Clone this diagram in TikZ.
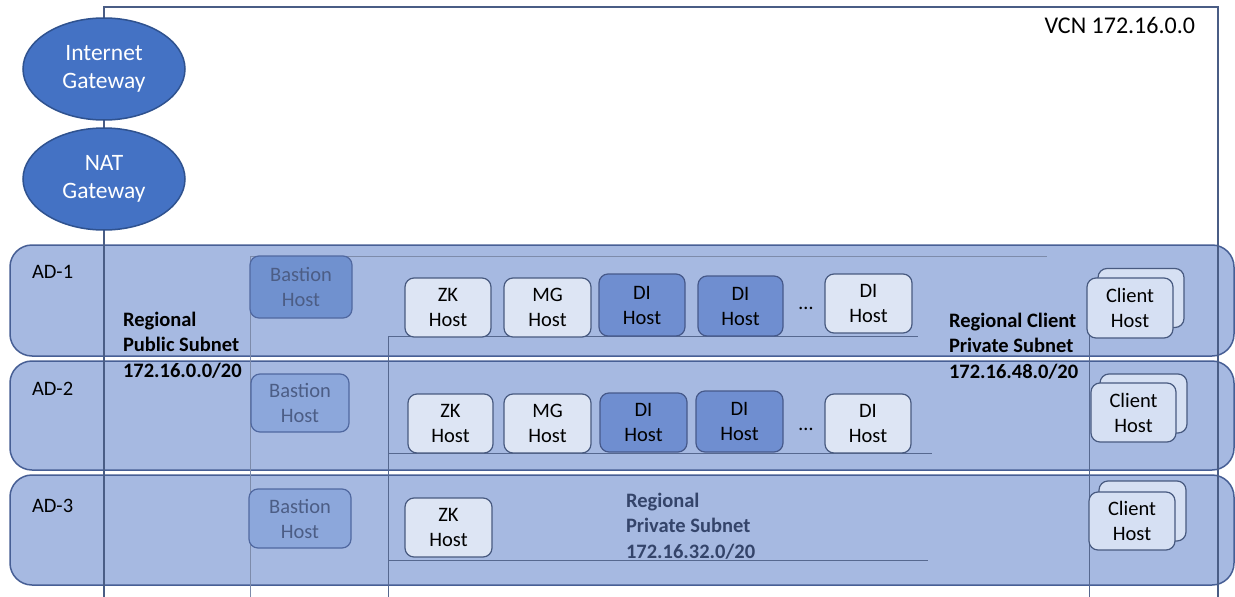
\documentclass[tikz,border=0pt]{standalone}
\usepackage{fontspec}
\setmainfont{Carlito}
\usetikzlibrary{shapes.geometric}
\definecolor{bandfill}{HTML}{A6B9E1}
\definecolor{banddraw}{HTML}{475F95}
\definecolor{vcnline}{HTML}{4A5D85}
\definecolor{subline}{HTML}{7D8BAA}
\definecolor{privline}{HTML}{56688F}
\definecolor{gwfill}{HTML}{4472C4}
\definecolor{gwdraw}{HTML}{2F528F}
\definecolor{hostfill}{HTML}{DDE5F4}
\definecolor{hostdraw}{HTML}{485A80}
\definecolor{difill}{HTML}{6F8ED0}
\definecolor{didraw}{HTML}{46598A}
\definecolor{bastdark}{HTML}{7091CF}
\definecolor{bastlight}{HTML}{8CA7DB}
\definecolor{bastdraw}{HTML}{5068A0}
\definecolor{basttext}{HTML}{4C5D85}
\definecolor{clientfill}{HTML}{D6E0F3}
\definecolor{privtext}{HTML}{34446A}
\begin{document}
\begin{tikzpicture}[x=1pt,y=-1pt,
  every node/.style={inner sep=0pt, outer sep=0pt},
  bandbox/.style={draw=banddraw, fill=bandfill, line width=1.5pt, rounded corners=22pt, anchor=north west, minimum width=1224pt},
  gw/.style={ellipse, draw=gwdraw, fill=gwfill, line width=1.5pt, minimum width=162pt, minimum height=102pt, text=white, align=center, font=\fontsize{23.5}{27.5}\selectfont},
  hostbase/.style={draw=hostdraw, line width=1.2pt, rounded corners=9pt, align=center, font=\fontsize{20.5}{25}\selectfont, minimum width=86pt, minimum height=59pt},
  lighthost/.style={hostbase, fill=hostfill},
  dihost/.style={hostbase, fill=difill, draw=didraw},
  bastion/.style={hostbase, draw=bastdraw, text=basttext},
  clienthost/.style={hostbase, fill=clientfill},
  adlabel/.style={anchor=base west, font=\fontsize{20.5}{25.5}\selectfont},
  sublabel/.style={anchor=base west, font=\fontsize{20.5}{25.5}\selectfont\bfseries},
  vcnedge/.style={draw=vcnline, line width=1.5pt},
  subedge/.style={draw=subline, line width=1pt},
  privedge/.style={draw=privline, line width=1pt},
]
\useasboundingbox (0,0) rectangle (1235,597);
\fill[white] (0,0) rectangle (1235,597);

% availability domain bands
\node[bandbox, minimum height=111pt] (ad1) at (10,245) {};
\node[bandbox, minimum height=109pt] (ad2) at (10,361) {};
\node[bandbox, minimum height=110pt] (ad3) at (10,475) {};

% VCN outline
\coordinate (vbl) at (104,597);
\coordinate (vtl) at (104,7);
\coordinate (vtr) at (1218,7);
\coordinate (vbr) at (1218,597);
\draw[vcnedge] (vbl) -- (vtl) -- (vtr) -- (vbr);

% public subnet outline
\coordinate (pbl) at (250,597);
\coordinate (ptl) at (250,256);
\coordinate (ptr) at (1047,256);
\draw[subedge] (pbl) -- (ptl) -- (ptr);

% regional private subnet lines
\coordinate (qbl) at (388,597);
\coordinate (q1l) at (388,336);
\coordinate (q1r) at (918,336);
\coordinate (q2l) at (388,453);
\coordinate (q2r) at (932,453);
\coordinate (q3l) at (388,560);
\coordinate (q3r) at (928,560);
\draw[privedge] (qbl) -- (q1l) -- (q1r);
\draw[privedge] (q2l) -- (q2r);
\draw[privedge] (q3l) -- (q3r);

% client subnet line
\coordinate (cbl) at (1089,597);
\coordinate (ctl) at (1089,300);
\draw[privedge] (cbl) -- (ctl);

% gateways
\node[gw] (igw) at (104,69) {Internet\\Gateway};
\node[gw] (nat) at (104,179) {NAT\\Gateway};

% titles
\node[anchor=base east, font=\fontsize{24}{28}\selectfont] (vcn) at (1195,33) {VCN 172.16.0.0};
\node[adlabel] (ad1lbl) at (32,278) {AD-1};
\node[adlabel] (ad2lbl) at (32,395) {AD-2};
\node[adlabel] (ad3lbl) at (32,512) {AD-3};

\node[sublabel] (pubsub) at (123,326) {\begin{tabular}[t]{@{}l@{}}Regional\\Public Subnet\\172.16.0.0/20\end{tabular}};
\node[sublabel] (clisub) at (949,327) {\begin{tabular}[t]{@{}l@{}}Regional Client\\Private Subnet\\172.16.48.0/20\end{tabular}};
\node[sublabel, text=privtext] (privsub) at (626,507) {\begin{tabular}[t]{@{}l@{}}Regional\\Private Subnet\\172.16.32.0/20\end{tabular}};

% bastion hosts
\node[bastion, fill=bastdark, minimum width=102pt, minimum height=62pt] (b1) at (301,287) {Bastion\\Host};
\node[bastion, fill=bastlight, minimum width=98pt, minimum height=58pt] (b2) at (300,403) {Bastion\\Host};
\node[bastion, fill=bastlight, minimum width=102pt, minimum height=59pt] (b3) at (300,518.5) {Bastion\\Host};

% AD-1 hosts
\node[lighthost] (zk1) at (448,307.5) {ZK\\Host};
\node[lighthost, minimum width=87pt] (mg1) at (547.5,307.5) {MG\\Host};
\node[dihost, minimum height=62pt] (di1a) at (642,305) {DI\\Host};
\node[dihost, minimum width=85pt, minimum height=60pt] (di1b) at (740.5,306) {DI\\Host};
\node[anchor=base, font=\fontsize{20.5}{25}\selectfont] (dots1) at (806,309) {…};
\node[lighthost, minimum width=87pt] (di1c) at (868.5,303.5) {DI\\Host};

% AD-2 hosts
\node[lighthost, minimum width=85pt] (zk2) at (450.5,423.5) {ZK\\Host};
\node[lighthost, minimum width=87pt] (mg2) at (547.5,423.5) {MG\\Host};
\node[dihost, minimum width=87pt] (di2a) at (643.5,422.5) {DI\\Host};
\node[dihost, minimum width=87pt, minimum height=61pt] (di2b) at (739.5,421.5) {DI\\Host};
\node[anchor=base, font=\fontsize{20.5}{25}\selectfont] (dots2) at (806,430) {…};
\node[lighthost] (di2c) at (868,423.5) {DI\\Host};

% AD-3 hosts
\node[lighthost, minimum width=87pt] (zk3) at (448.5,527.5) {ZK\\Host};

% client hosts
\node[clienthost] (c1back) at (1141,298) {};
\node[clienthost, minimum height=60pt] (c1) at (1130,308) {Client\\Host};
\node[clienthost, minimum width=87pt] (c2back) at (1143.5,403.5) {};
\node[clienthost, minimum width=85pt] (c2) at (1133.5,412.5) {Client\\Host};
\node[clienthost, minimum width=87pt, minimum height=60pt] (c3back) at (1142.5,511) {};
\node[clienthost, minimum height=58pt] (c3) at (1132,521) {Client\\Host};
\end{tikzpicture}
\end{document}
